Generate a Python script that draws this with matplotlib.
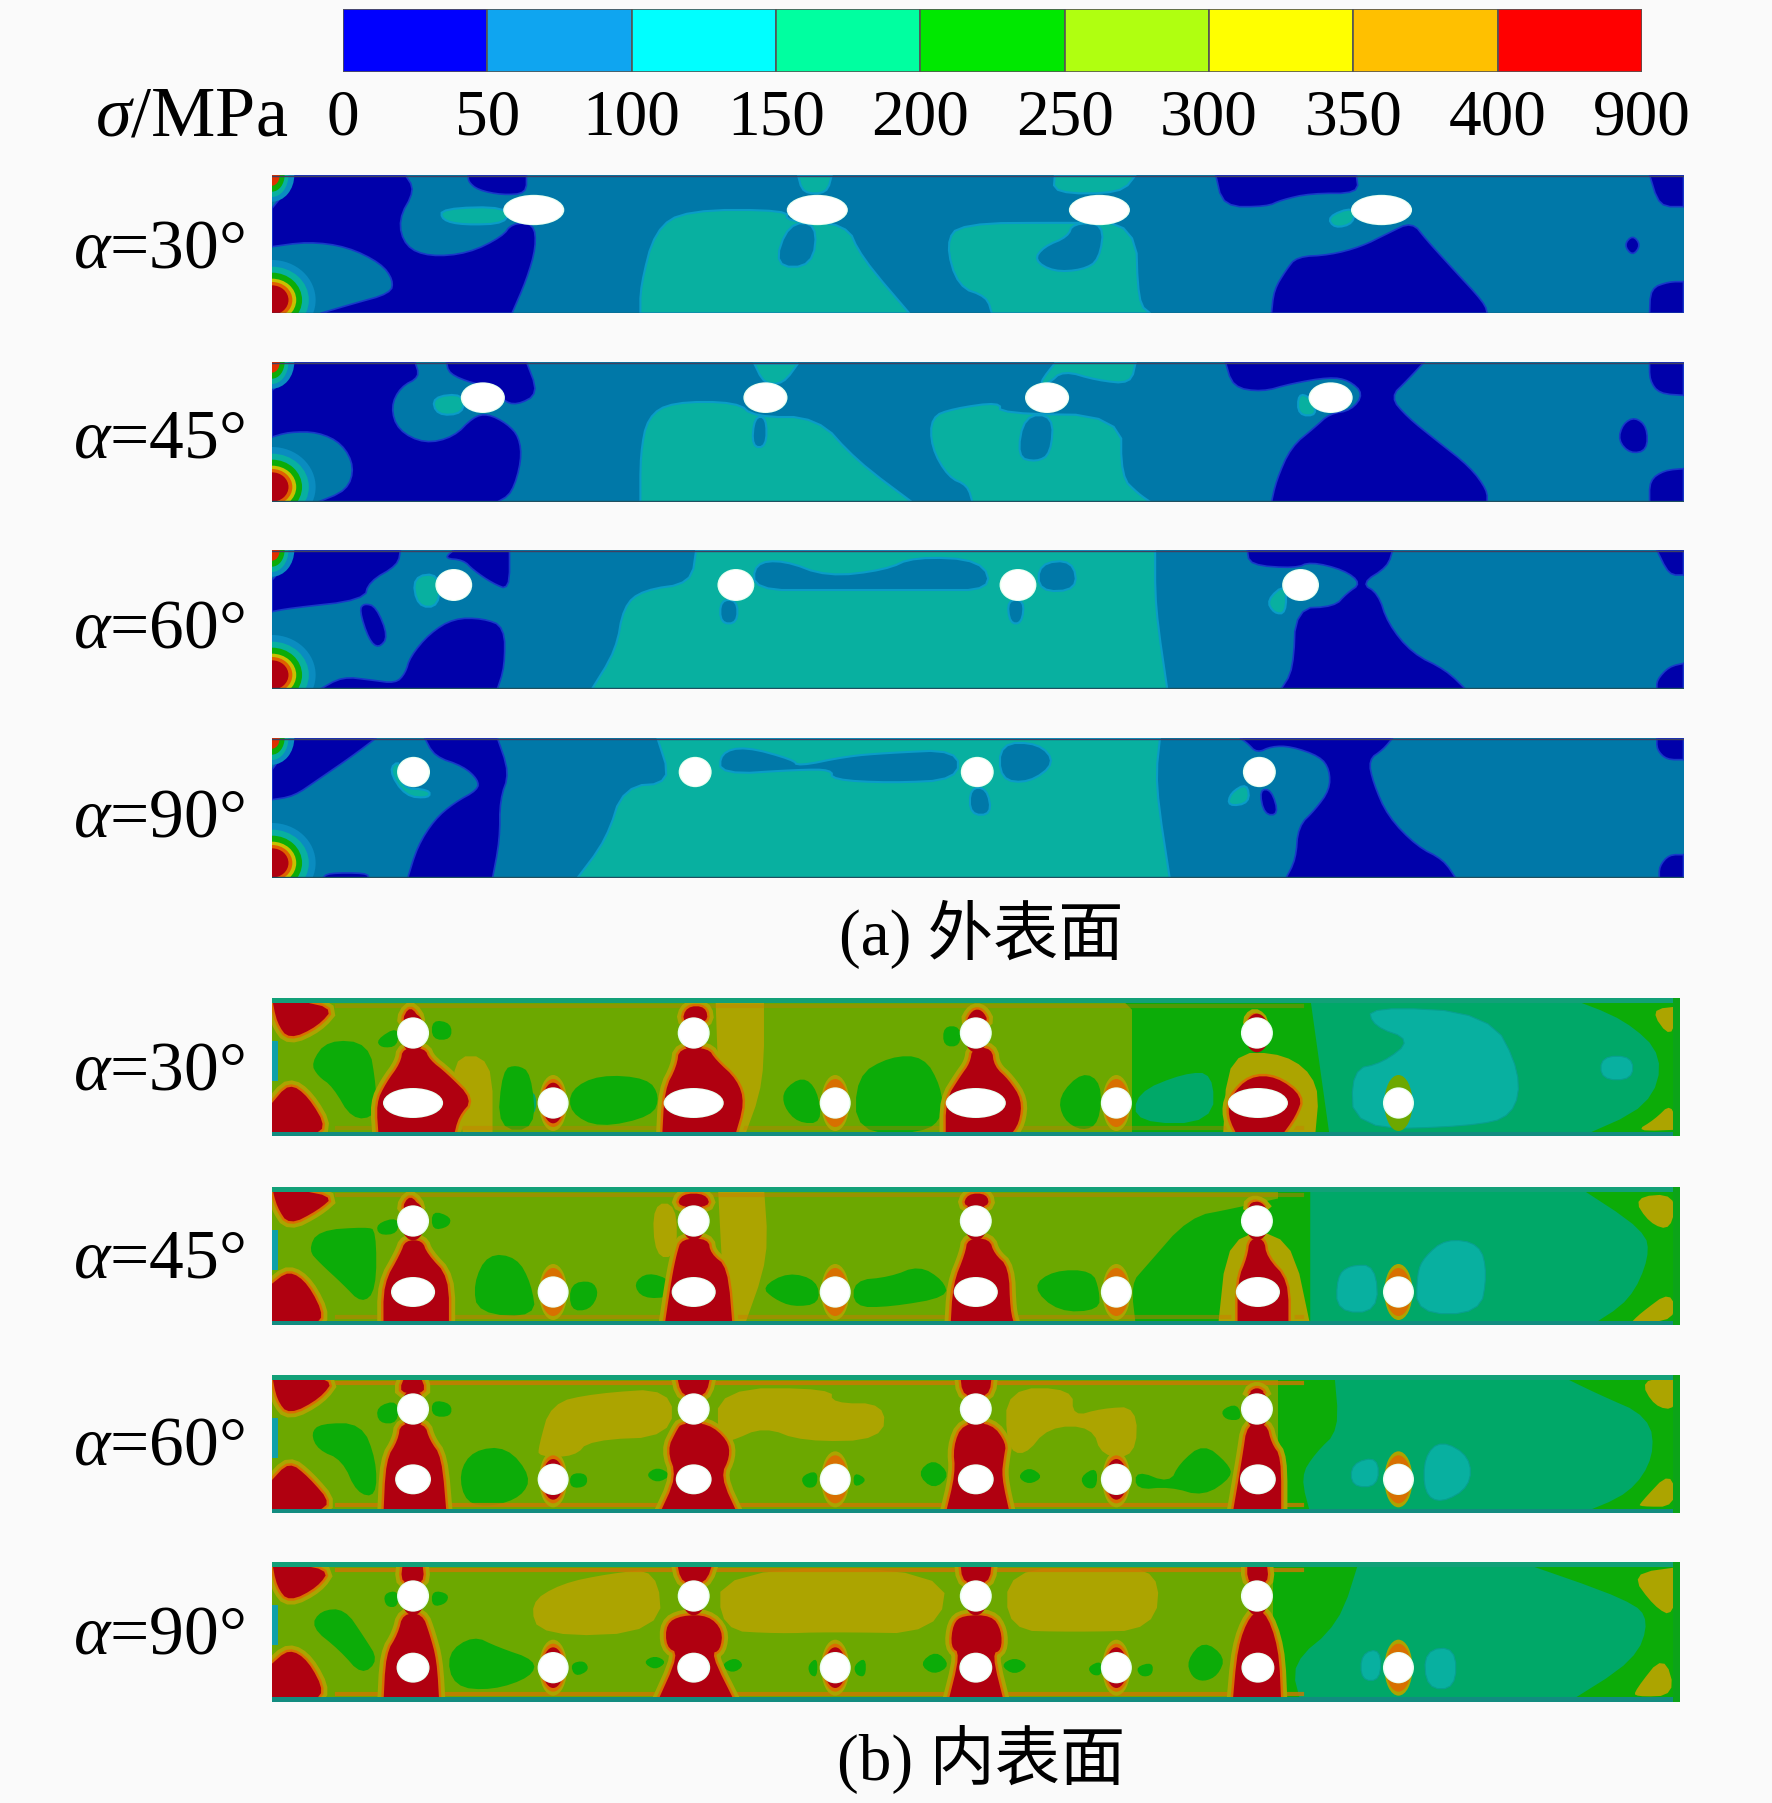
import matplotlib
matplotlib.use('Agg')
import matplotlib.pyplot as plt
from matplotlib.patches import Ellipse, Rectangle
import numpy as np

plt.rcParams['font.family'] = ['Liberation Serif', 'Noto Sans CJK SC', 'DejaVu Sans']
plt.rcParams['mathtext.fontset'] = 'custom'
plt.rcParams['mathtext.rm'] = 'Liberation Serif'
plt.rcParams['mathtext.it'] = 'Liberation Serif:italic'
plt.rcParams['mathtext.bf'] = 'Liberation Serif:bold'

# ---------- colour bar ----------
BAR_COLORS = ['#0000FF', '#0FA5F0', '#00FFFF', '#00FFA0', '#00E800', '#B0FF10', '#FFFF00', '#FFC000', '#FF0000']
BAR_LABELS = ['0', '50', '100', '150', '200', '250', '300', '350', '400', '900']
ANGLES = ['30', '45', '60', '90']

# ---------- stress band colours as rendered in the contours ----------
DEEP = '#0000AA'; BLUE = '#0078A8'; LBLUE = '#0A9CC8'; TEAL = '#08B0A0'; SEA = '#00A868'
GREEN = '#0CAC08'; YGREEN = '#6CA800'; OLIVE = '#ACA400'; ORANGE = '#D87000'; DRED = '#B00010'

# ---------- outer surface regions (x, y in panel units) ----------
A1_DEEP = [
 [(50,45),(300,45),(320,90),(285,180),(300,260),(350,290),(430,280),(500,230),(520,190),(565,190),(570,260),(550,360),(520,460),(125,460),(190,432),(270,400),(275,360),(250,310),(180,260),(100,245),(25,260),(25,145),(50,100)],
 [(430,45),(550,45),(550,100),(500,105),(450,90),(430,65)],
 [(2139,290),(2207,285),(2272,260),(2327,220),(2377,185),(2407,240),(2457,320),(2527,430),(2532,460),(2087,460),(2092,390),(2117,330)],
 [(1972,45),(2262,45),(2267,100),(2167,100),(2107,120),(2077,140),(1987,140)],
 [(2832,225),(2849,255),(2832,288),(2814,255)],
 [(2867,45),(2937,45),(2937,140),(2887,140)],
 [(2869,385),(2907,365),(2937,365),(2937,460),(2867,460)],
]
A1_TEAL = [
 [(785,460),(785,380),(815,210),(880,150),(1090,150),(1085,185),(1210,190),(1240,290),(1340,460)],
 [(1510,460),(1500,410),(1440,380),(1415,250),(1445,190),(1670,188),(1807,190),(1812,430),(1837,460)],
 [(375,145),(510,140),(510,190),(420,195),(375,180)],
 [(1110,45),(1180,45),(1170,100),(1120,100)],
 [(1640,45),(1807,45),(1777,100),(1637,100)],
 [(2202,170),(2257,140),(2257,190),(2217,205)],
]
A1_BLUE = [
 [(1090,190),(1150,190),(1140,320),(1060,320)],
 [(1677,190),(1742,190),(1732,300),(1697,330),(1637,335),(1597,300),(1617,260),(1667,230)],
]
A2_DEEP = [
 [(60,605),(320,605),(330,650),(290,680),(270,740),(285,810),(340,850),(400,830),(440,770),(470,760),(510,790),(535,830),(540,900),(520,1000),(490,1025),(120,1025),(180,990),(195,920),(170,850),(120,815),(60,815),(25,830),(25,690),(50,660)],
 [(385,605),(550,605),(575,700),(530,735),(500,720),(490,680),(440,670),(390,640)],
 [(1992,605),(2402,605),(2367,660),(2332,710),(2367,770),(2427,840),(2497,920),(2532,990),(2532,1025),(2087,1025),(2097,960),(2127,860),(2177,800),(2207,760),(2252,750),(2277,700),(2247,660),(2207,650),(2127,670),(2067,695),(2007,680)],
 [(2837,770),(2862,800),(2862,870),(2827,880),(2802,840),(2812,790)],
 [(2867,605),(2937,605),(2937,705),(2887,700),(2867,660)],
 [(2867,960),(2897,930),(2937,925),(2937,1025),(2867,1025)],
]
A2_TEAL = [
 [(785,1025),(785,880),(800,770),(850,725),(985,725),(1020,770),(1150,770),(1230,900),(1345,1025)],
 [(1470,1025),(1460,975),(1420,950),(1385,860),(1385,770),(1430,745),(1527,725),(1527,760),(1777,765),(1777,950),(1812,1000),(1837,1025)],
 [(355,710),(420,700),(420,760),(365,765)],
 [(2142,700),(2167,710),(2182,765),(2142,765)],
 [(1020,610),(1110,610),(1080,670),(1040,670)],
 [(1642,605),(1807,605),(1797,670),(1727,660),(1657,630),(1627,670),(1607,670)],
]
A2_BLUE = [
 [(1020,770),(1045,770),(1045,860),(1015,860)],
 [(1577,765),(1637,765),(1632,880),(1602,905),(1562,890)],
]
A3_DEEP = [
 [(60,30),(290,30),(285,75),(225,125),(215,180),(60,205),(25,215),(25,120),(50,80)],
 [(215,190),(240,200),(265,290),(245,325),(225,300),(205,210)],
 [(300,400),(310,350),(350,280),(400,235),(460,235),(505,260),(505,380),(490,447),(125,447),(170,410),(230,420),(280,430)],
 [(400,30),(515,30),(515,150),(480,130),(440,90),(420,60),(380,55)],
 [(2037,30),(2337,30),(2327,80),(2272,130),(2307,160),(2327,250),(2377,340),(2447,390),(2487,447),(2107,447),(2132,390),(2137,205),(2217,200),(2242,160),(2272,130),(2237,90),(2167,65),(2137,85),(2042,75)],
 [(2882,30),(2937,30),(2937,105),(2907,105)],
 [(2882,420),(2907,380),(2937,370),(2937,447),(2882,447)],
]
A3_TEAL = [
 [(685,447),(735,330),(750,200),(790,150),(890,130),(900,30),(1847,30),(1847,200),(1872,447)],
 [(315,110),(370,100),(370,200),(325,200)],
 [(2077,180),(2117,130),(2117,220),(2092,220)],
]
A3_BLUE = [
 [(1020,70),(1080,60),(1170,110),(1290,90),(1350,50),(1490,60),(1510,150),(1380,150),(1170,150),(1020,150)],
 [(1607,70),(1677,60),(1687,150),(1607,155)],
 [(950,180),(985,180),(985,250),(950,250)],
 [(1542,180),(1577,180),(1572,250),(1547,250)],
]
A4_DEEP = [
 [(60,595),(240,595),(190,650),(120,720),(70,770),(25,780),(25,690),(50,640)],
 [(340,595),(490,595),(515,700),(495,780),(495,900),(480,1015),(305,1015),(325,920),(360,840),(400,790),(450,750),(450,720),(420,680),(360,650)],
 [(130,1015),(140,1000),(220,1000),(225,1015)],
 [(2022,595),(2337,595),(2317,630),(2287,660),(2297,730),(2327,830),(2387,920),(2442,960),(2467,1015),(2117,1015),(2137,960),(2142,860),(2177,810),(2207,750),(2207,690),(2187,650),(2127,620),(2087,620),(2057,640),(2037,610)],
 [(2882,595),(2937,595),(2937,660),(2902,660),(2882,630)],
 [(2887,980),(2907,945),(2937,945),(2937,1015),(2887,1015)],
 [(2062,750),(2087,750),(2102,825),(2072,825)],
]
A4_TEAL = [
 [(655,1015),(715,900),(750,740),(850,730),(820,595),(1857,595),(1847,730),(1877,1015)],
 [(265,690),(290,660),(290,745),(350,750),(350,775),(300,770)],
 [(2002,760),(2037,730),(2042,790),(1997,800)],
]
A4_BLUE = [
 [(950,640),(1000,620),(1100,660),(1110,680),(1210,650),(1290,640),(1440,630),(1440,720),(1300,730),(1180,720),(1180,690),(1110,690),(950,705)],
 [(1527,610),(1607,610),(1642,670),(1587,730),(1527,720)],
 [(1465,745),(1500,745),(1510,825),(1465,825)],
]
A_HOLES = [
 [(565,150,120,85),(1150,150,120,85),(1732,150,120,85),(2314,150,120,85)],
 [(460,712,85,86),(1043,712,85,86),(1624,712,85,86),(2209,712,85,86)],
 [(400,135,70,90),(982,135,70,90),(1564,135,70,90),(2147,135,70,90)],
 [(317,697,62,85),(898,697,62,85),(1480,697,62,85),(2062,697,62,85)],
]
A_HOT_Y = [420, 980, 405, 970]
A_TOPS = [45, 605, 30, 595]
A_BOTTOMS = [460, 1025, 447, 1015]
A_PIX = [175, 362, 550, 738]

# ---------- inner surface regions ----------
B1_OLIVE = [
 [(940,25),(1040,25),(1040,280),(1000,440),(950,440)],
 [(390,200),(480,200),(480,440),(420,440)],
 [(1997,190),(2117,190),(2187,280),(2177,440),(1987,440)],
 [(2867,60),(2927,50),(2912,150)],[(2877,390),(2912,340),(2927,420),(2837,425)],
]
B1_ZONE = [[(1775,25),(1827,100),(1822,230),(1807,300),(1807,440),(2200,440),(2200,25)]]
B1_SEA = [
 [(2167,25),(2700,25),(2817,90),(2897,200),(2867,350),(2727,440),(2207,440)],
 [(1807,310),(1907,250),(1967,250),(1967,400),(1807,400)],
 [(525,310),(570,300),(570,380),(530,370)],[(790,300),(825,320),(790,370)],
]
B1_TEAL = [
 [(2287,50),(2537,70),(2602,250),(2587,380),(2497,410),(2257,420),(2252,240),(2317,220),(2377,150),(2297,110)],
 [(2767,200),(2832,200),(2832,270),(2767,270)],
]
B1_GREEN = [
 [(105,220),(140,150),(225,160),(240,290),(240,380),(190,390),(150,290),(120,260)],
 [(240,150),(285,110),(285,170),(250,175)],[(355,90),(395,100),(395,150),(355,150)],
 [(500,240),(530,225),(560,250),(570,420),(490,420)],
 [(640,300),(700,255),(800,265),(825,320),(810,380),(700,415),(640,370)],
 [(1080,300),(1120,260),(1150,300),(1160,400),(1110,400),(1080,350)],
 [(1230,260),(1300,200),(1370,200),(1405,290),(1410,380),(1370,430),(1230,430)],
 [(1410,110),(1445,110),(1445,170),(1410,170)],
 [(1647,320),(1697,245),(1737,280),(1732,400),(1697,425),(1657,390)],
]
B1_RED = [
 [(25,25),(155,50),(120,110),(60,150),(35,100)],
 [(25,340),(60,280),(100,320),(140,420),(90,440),(25,440)],
 [(295,175),(340,175),(350,210),(385,250),(440,330),(410,380),(400,440),(245,440),(240,340),(260,280),(290,220)],
 [(290,100),(310,45),(335,100)],
 [(865,175),(925,175),(940,210),(985,270),(1000,340),(980,440),(830,440),(835,300),(860,230)],
 [(870,100),(880,50),(920,50),(925,100)],
 [(1470,175),(1510,175),(1515,230),(1545,270),(1572,330),(1567,400),(1547,440),(1415,440),(1415,330),(1445,260),(1465,220)],
 [(1455,100),(1470,60),(1490,60),(1505,100)],
 [(2002,320),(2042,260),(2097,260),(2152,320),(2137,380),(2107,440),(2017,440),(1997,380)],
 [(2037,100),(2052,70),(2072,100)],
]
B2_OLIVE = [
 [(945,590),(1040,590),(1050,800),(1000,1005),(960,1005)],
 [(810,640),(860,640),(860,800),(815,800)],
 [(1997,730),(2127,730),(2167,1005),(1977,1005)],
 [(2832,620),(2922,610),(2912,720),(2867,700)],[(2847,970),(2912,900),(2922,990),(2827,1000)],
]
B2_ZONE = [[(1827,830),(1917,680),(2007,655),(2207,590),(2207,1005),(1807,1005),(1797,880)]]
B2_SEA = [[(2167,590),(2720,590),(2857,720),(2867,800),(2827,930),(2747,1005),(2167,1005)]]
B2_TEAL = [
 [(2402,800),(2447,745),(2517,760),(2532,850),(2517,970),(2387,970),(2387,850)],
 [(2222,860),(2247,825),(2302,825),(2307,965),(2222,965)],
]
B2_GREEN = [
 [(100,780),(120,720),(220,710),(240,720),(240,900),(210,940),(170,880),(125,820)],
 [(240,700),(285,680),(285,730),(245,735)],[(355,660),(395,680),(390,710),(355,720)],
 [(440,880),(470,790),(530,800),(560,880),(570,980),(450,970)],
 [(640,880),(685,870),(700,910),(680,960),(640,960)],
 [(770,880),(800,845),(850,870),(850,920),(790,925)],
 [(1035,890),(1090,845),(1150,870),(1155,940),(1100,950),(1060,925)],
 [(1225,870),(1300,860),(1360,825),(1410,870),(1420,920),(1300,950),(1225,950)],
 [(1592,890),(1637,840),(1717,840),(1732,900),(1732,960),(1647,965)],
]
B2_RED = [
 [(25,590),(155,615),(120,660),(60,705),(35,650)],
 [(25,880),(60,840),(100,880),(135,985),(100,1005),(25,1005)],
 [(300,750),(335,750),(345,790),(390,860),(390,1005),(255,1005),(255,880),(290,790)],
 [(290,660),(310,610),(335,660)],
 [(870,745),(925,745),(930,790),(965,830),(975,1005),(835,1005),(850,860),(860,790)],
 [(860,650),(870,610),(920,610),(930,650)],
 [(1460,745),(1505,745),(1515,790),(1545,830),(1548,960),(1557,1005),(1425,1005),(1430,880),(1455,790)],
 [(1450,650),(1460,610),(1500,610),(1505,650)],
 [(2042,745),(2072,745),(2077,800),(2122,870),(2122,1005),(2017,1005),(2017,870),(2037,800)],
 [(2037,650),(2052,630),(2077,650)],
]
B3_OLIVE = [
 [(575,260),(600,130),(690,100),(850,85),(850,230),(680,240),(650,290),(575,290)],
 [(945,85),(1180,85),(1180,130),(1290,130),(1285,240),(1120,245),(1040,200),(970,245),(945,245)],
 [(1540,85),(1677,85),(1677,170),(1737,145),(1810,140),(1807,290),(1737,290),(1717,200),(1627,200),(1577,290),(1540,260)],
 [(2847,60),(2927,50),(2922,150),(2877,140)],[(2847,430),(2912,330),(2922,440),(2847,440)],
]
B3_ZONE = [[(2102,45),(2217,45),(2222,220),(2152,280),(2167,460),(2117,460),(2137,200)]]
B3_SEA = [[(2217,45),(2680,45),(2757,100),(2867,170),(2877,290),(2827,400),(2727,460),(2167,460),(2147,350),(2177,280),(2227,210)]]
B3_TEAL = [
 [(2252,310),(2307,290),(2307,380),(2252,380)],
 [(2402,290),(2437,240),(2497,290),(2497,380),(2437,430),(2402,400)],
]
B3_GREEN = [
 [(105,220),(125,190),(210,190),(240,300),(240,410),(200,400),(170,300),(120,270)],
 [(240,140),(285,120),(285,190),(245,190)],[(355,120),(395,130),(395,170),(355,170)],
 [(410,340),(440,270),(510,260),(560,350),(540,410),(480,440),(425,430)],
 [(640,340),(675,340),(675,380),(640,385)],[(795,345),(820,320),(850,345),(820,370)],
 [(1115,350),(1150,330),(1150,380),(1125,385)],[(1225,335),(1255,360),(1225,385)],
 [(1355,340),(1390,295),(1425,345),(1390,390)],[(1562,350),(1587,320),(1617,350),(1587,375)],
 [(1692,350),(1727,320),(1727,385),(1702,385)],
 [(1807,330),(1877,370),(1897,310),(1947,250),(1997,310),(2007,350),(1947,410),(1877,380),(1807,390)],
 [(1982,150),(2017,130),(2027,180),(1992,180)],
]
B3_RED = [
 [(25,45),(155,55),(125,115),(60,165),(35,120)],
 [(25,360),(60,305),(100,350),(150,435),(100,460),(25,460)],
 [(290,190),(340,190),(350,240),(375,290),(385,460),(255,460),(260,300),(285,240)],
 [(285,100),(300,45),(330,45),(345,100)],
 [(870,190),(925,190),(965,240),(970,290),(950,350),(985,460),(825,460),(860,350),(840,270),(860,210)],
 [(860,45),(930,45),(920,110),(870,110)],
 [(1450,190),(1510,190),(1540,250),(1535,290),(1530,350),(1547,460),(1415,460),(1435,340),(1430,260)],
 [(1445,45),(1510,45),(1505,110),(1450,110)],
 [(2037,190),(2077,190),(2087,250),(2107,290),(2107,460),(2007,460),(2027,290)],
 [(2037,100),(2057,80),(2077,100)],
]
B4_OLIVE = [
 [(555,730),(620,670),(720,640),(820,625),(830,815),(580,830)],
 [(950,625),(1420,625),(1400,820),(1170,815),(1070,820),(950,810)],
 [(1542,625),(1742,625),(1857,630),(1847,810),(1677,815),(1542,810)],
 [(2827,640),(2927,620),(2917,770),(2877,740)],[(2837,990),(2897,880),(2922,1005),(2837,1010)],
]
B4_ZONE = [[(2092,700),(2147,605),(2247,605),(2247,740),(2147,870),(2167,1025),(2117,1025),(2137,850)]]
B4_SEA = [[(2147,1025),(2127,910),(2227,790),(2267,605),(2600,605),(2827,720),(2867,780),(2837,900),(2700,1025)]]
B4_TEAL = [
 [(2272,880),(2312,865),(2312,960),(2272,960)],
 [(2402,870),(2467,860),(2467,985),(2407,985)],
]
B4_GREEN = [
 [(105,800),(125,750),(175,745),(215,830),(245,900),(210,945),(165,870)],
 [(255,700),(285,690),(285,740),(260,740)],[(355,690),(390,700),(385,730),(355,740)],
 [(385,880),(440,825),(490,860),(570,900),(560,950),(480,990),(400,980)],
 [(640,910),(670,900),(680,930),(650,950)],[(790,905),(815,885),(840,905),(815,930)],
 [(950,915),(980,890),(1000,915),(975,940)],[(1130,915),(1150,890),(1150,950),(1135,945)],
 [(1225,915),(1250,890),(1250,950),(1230,945)],[(1360,910),(1395,870),(1425,915),(1390,945)],
 [(1527,915),(1557,890),(1587,915),(1557,945)],[(1707,920),(1737,900),(1737,945),(1717,945)],
 [(1807,920),(1842,905),(1842,945),(1817,950)],
 [(1912,900),(1947,840),(1992,890),(1977,945),(1947,965),(1922,950)],
]
B4_RED = [
 [(25,605),(145,625),(120,680),(60,725),(35,680)],
 [(25,910),(60,865),(100,900),(135,1000),(100,1025),(25,1025)],
 [(295,760),(335,760),(350,820),(365,900),(370,1025),(255,1025),(260,880),(285,820)],
 [(290,670),(295,605),(335,605),(340,670)],
 [(870,765),(925,765),(955,810),(950,870),(930,880),(980,1025),(820,1025),(865,880),(838,860),(838,790)],
 [(860,605),(935,605),(920,670),(870,670)],
 [(1450,765),(1510,765),(1530,810),(1530,870),(1510,880),(1535,1025),(1420,1025),(1445,880),(1425,860),(1430,790)],
 [(1445,605),(1510,605),(1505,670),(1450,670)],
 [(2042,765),(2072,745),(2102,860),(2107,1025),(2007,1025),(2017,860)],
 [(2037,605),(2077,605),(2082,670),(2037,670)],
]
B_UPPER_X = [316, 895, 1477, 2057]
B_LOWER_X = [316, 895, 1477, 2059]
B_SMALL_X = [605, 1187, 1767, 2349]
B_UPPER_Y = [130, 692, 147, 707]
B_LOWER_Y = [340, 905, 358, 922]
B_LOWER_W = [118, 85, 68, 62]
B_TOPS = [25, 590, 45, 605]
B_BOTTOMS = [440, 1005, 460, 1025]
B_PIX = [998, 1187, 1375, 1562]
B_SMALL_HALO = [[DRED, ORANGE, ORANGE, YGREEN], [ORANGE, ORANGE, ORANGE, ORANGE], [DRED, ORANGE, DRED, ORANGE], [DRED, DRED, DRED, ORANGE]]
B_EDGE_ALPHA = [0.35, 0.45, 0.8, 0.8]

# ---------- text ----------
A_LABEL_PIX = [251, 441, 631, 820]
B_LABEL_PIX = [1073, 1261, 1448, 1637]
CAPTIONS = ['(a) 外表面', '(b) 内表面']

W, H = 1772, 1803
BG = '#FAFAFA'
fig = plt.figure(figsize=(W/100, H/100), dpi=100, facecolor=BG)
FS = 47


def smooth(pts, bounds, n=2):
    """Round the free corners of a region, keeping vertices that lie on the panel border."""
    x0, x1, t, b = bounds
    p = [tuple(v) for v in pts]
    pin = [(v[0] <= x0+6) or (v[0] >= x1-6) or (v[1] <= t+8) or (v[1] >= b-8) for v in p]
    for _ in range(n):
        out, opin = [], []
        m = len(p)
        for k in range(m):
            a, c = np.array(p[k]), np.array(p[(k+1) % m])
            if pin[k]:
                out.append(tuple(a)); opin.append(True)
            else:
                out.append(tuple(0.75*a+0.25*c)); opin.append(False)
            if pin[(k+1) % m]:
                pass
            else:
                out.append(tuple(0.25*a+0.75*c)); opin.append(False)
        p, pin = out, opin
    return np.array(p)


def panel_axes(x0, x1, y0, y1, zx0, zx1, ztop, zbot):
    ax = fig.add_axes([x0/W, 1-y1/H, (x1-x0)/W, (y1-y0)/H])
    ax.set_xlim(zx0, zx1); ax.set_ylim(zbot, ztop)
    ax.axis('off')
    return ax


def fill(ax, polys, bounds, color, edge=None, lw=0.0, z=2):
    for poly in polys:
        p = smooth(poly, bounds)
        ax.fill(p[:, 0], p[:, 1], facecolor=color, edgecolor=edge if edge else color,
                linewidth=lw, zorder=z)


def hole(ax, x, y, w, h, z=9):
    ax.add_patch(Ellipse((x, y), w+6, h+6, facecolor='#E8FFF0', edgecolor='none', zorder=z))
    ax.add_patch(Ellipse((x, y), w, h, facecolor='white', edgecolor='none', zorder=z+0.1))


# ---------- colour bar ----------
cax = fig.add_axes([343/W, 1-72/H, (1642-343)/W, 63/H])
cax.bar(np.arange(len(BAR_COLORS)), np.ones(len(BAR_COLORS)), width=1.0, align='edge',
        color=BAR_COLORS, edgecolor='#555555', linewidth=1.2)
cax.set_xlim(0, 9); cax.set_ylim(0, 1)
cax.set_yticks([])
cax.set_xticks(np.arange(10), BAR_LABELS, fontsize=FS)
cax.tick_params(axis='x', length=0, pad=12)
for s in cax.spines.values():
    s.set_visible(False)
fig.text(288/W, 1-118/H, r'$\sigma$/MPa', fontsize=52, ha='right', va='center')

# ---------- outer surface ----------
A_DEEP = [A1_DEEP, A2_DEEP, A3_DEEP, A4_DEEP]
A_TEAL = [A1_TEAL, A2_TEAL, A3_TEAL, A4_TEAL]
A_BLUE = [A1_BLUE, A2_BLUE, A3_BLUE, A4_BLUE]
HOT_COLORS = ['#0A8CC0', TEAL, GREEN, '#C8C000', '#E06000', DRED]
HOT_RX = [90, 76, 62, 50, 42, 34]
HOT_RY = [120, 100, 82, 64, 54, 44]
for i in range(4):
    t, b, px = A_TOPS[i], A_BOTTOMS[i], A_PIX[i]
    bounds = (25, 2937, t, b)
    ax = panel_axes(272, 1683.5, px, px+(b-t)/3, 25, 2937, t, b)
    ax.add_patch(Rectangle((25, t), 2912, b-t, facecolor=BLUE, edgecolor='none', zorder=1))
    fill(ax, A_TEAL[i], bounds, TEAL, LBLUE, 1.5, z=2)
    fill(ax, A_BLUE[i], bounds, BLUE, LBLUE, 1.5, z=3)
    fill(ax, A_DEEP[i], bounds, DEEP, '#1838C8', 1.2, z=4)
    y = A_HOT_Y[i]
    for c, rx, ry in zip(HOT_COLORS, HOT_RX, HOT_RY):
        ax.add_patch(Ellipse((25, y), 2*rx, 2*ry, facecolor=c, edgecolor='none', zorder=5))
    for c, rx, ry in zip(['#0A8CC0', TEAL, GREEN, '#E03000'], [46, 34, 26, 16], [80, 66, 50, 32]):
        ax.add_patch(Ellipse((25, t), 2*rx, 2*ry, facecolor=c, edgecolor='none', zorder=5))
    for hx, hy, hw, hh in A_HOLES[i]:
        hole(ax, hx, hy, hw, hh)
    ax.plot([25, 2937], [t+2, t+2], color='#404060', lw=1.0, zorder=8)
    ax.plot([25, 2937], [b-2, b-2], color='#205060', lw=1.0, zorder=8)
    fig.text(245/W, 1-A_LABEL_PIX[i]/H, r'$\alpha$=' + ANGLES[i] + '°', fontsize=50, ha='right', va='center')

# ---------- inner surface ----------
B_OLIVE = [B1_OLIVE, B2_OLIVE, B3_OLIVE, B4_OLIVE]
B_ZONE = [B1_ZONE, B2_ZONE, B3_ZONE, B4_ZONE]
B_SEA = [B1_SEA, B2_SEA, B3_SEA, B4_SEA]
B_TEAL = [B1_TEAL, B2_TEAL, B3_TEAL, B4_TEAL]
B_GREEN = [B1_GREEN, B2_GREEN, B3_GREEN, B4_GREEN]
B_RED = [B1_RED, B2_RED, B3_RED, B4_RED]
RIGHT_START = [1800, 2100, 2100, 2090]
for i in range(4):
    t, b, px = B_TOPS[i], B_BOTTOMS[i], B_PIX[i]
    bounds = (25, 2929, t, b)
    ax = panel_axes(272, 1679.6, px, px+(b-t)/3, 25, 2929, t, b)
    ax.add_patch(Rectangle((25, t), 2904, b-t, facecolor=YGREEN, edgecolor='none', zorder=1))
    ax.add_patch(Rectangle((RIGHT_START[i], t), 2929-RIGHT_START[i], b-t, facecolor=GREEN, edgecolor='none', zorder=1.1))
    fill(ax, B_ZONE[i], bounds, GREEN, z=1.5)
    fill(ax, B_OLIVE[i], bounds, OLIVE, z=2)
    fill(ax, B_SEA[i], bounds, SEA, z=2.5)
    fill(ax, B_TEAL[i], bounds, TEAL, '#08A090', 0.8, z=3)
    fill(ax, B_GREEN[i], bounds, GREEN, z=3.5)
    ax.plot([160, 2150], [t+24, t+24], color='#D07800', lw=3.0, alpha=B_EDGE_ALPHA[i], zorder=3.6)
    ax.plot([160, 2150], [b-24, b-24], color='#D07800', lw=3.0, alpha=B_EDGE_ALPHA[i], zorder=3.6)
    fill(ax, B_RED[i], bounds, OLIVE, OLIVE, 9.0, z=4.2)
    fill(ax, B_RED[i], bounds, ORANGE, ORANGE, 3.5, z=4.5)
    fill(ax, B_RED[i], bounds, DRED, z=5)
    for hx in B_UPPER_X:
        ax.add_patch(Ellipse((hx, B_UPPER_Y[i]), 50, 116, facecolor=DRED, edgecolor='none', zorder=6))
        hole(ax, hx, B_UPPER_Y[i], 60, 88)
    for hx, c in zip(B_SMALL_X, B_SMALL_HALO[i]):
        ax.add_patch(Ellipse((hx, B_LOWER_Y[i]), 58, 168, facecolor=OLIVE if c != YGREEN else YGREEN, edgecolor='none', zorder=5.8))
        ax.add_patch(Ellipse((hx, B_LOWER_Y[i]), 52, 144, facecolor=ORANGE if c != YGREEN else YGREEN, edgecolor='none', zorder=6))
        ax.add_patch(Ellipse((hx, B_LOWER_Y[i]), 44, 122, facecolor=c, edgecolor='none', zorder=6.2))
        hole(ax, hx, B_LOWER_Y[i], 58, 88)
    for hx in B_LOWER_X:
        hole(ax, hx, B_LOWER_Y[i], B_LOWER_W[i], 84)
    ax.add_patch(Rectangle((25, t), 2904, 14, facecolor='#12A078', edgecolor='none', zorder=7))
    ax.add_patch(Rectangle((25, b-14), 2904, 14, facecolor='#128C80', edgecolor='none', zorder=7))
    ax.add_patch(Rectangle((25, t+130), 12, 120, facecolor='#10A0A8', edgecolor='none', zorder=7))
    ax.add_patch(Rectangle((2915, t), 14, b-t, facecolor='#0CA418', edgecolor='none', zorder=7))
    fig.text(245/W, 1-B_LABEL_PIX[i]/H, r'$\alpha$=' + ANGLES[i] + '°', fontsize=50, ha='right', va='center')

fig.text(981/W, 1-934/H, CAPTIONS[0], fontsize=FS, ha='center', va='center')
fig.text(981/W, 1-1759/H, CAPTIONS[1], fontsize=FS, ha='center', va='center')

fig.savefig('out.png', dpi=100, facecolor=BG)
